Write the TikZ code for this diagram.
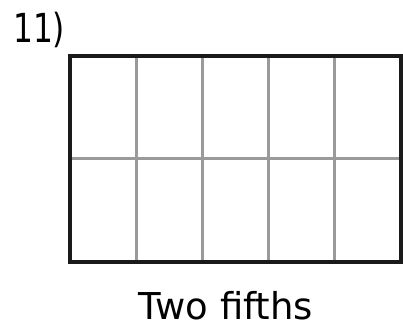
\documentclass[tikz,border=0pt]{standalone}
\usepackage{fontspec}
\setmainfont{DejaVu Sans}
\usepackage{tikz}
\definecolor{framec}{HTML}{1A1A1A}
\definecolor{gridc}{HTML}{9A9A9A}
\tikzset{
  frame/.style={draw=framec, line width=4pt},
  cellline/.style={draw=gridc, line width=3pt},
}

\begin{document}
\begin{tikzpicture}[x=1pt,y=-1pt]
\useasboundingbox (0,0) rectangle (403,328);
\foreach \i in {1,...,4}
  \draw[cellline] ({70+66.2*\i},56.5) -- ({70+66.2*\i},261.5);
\draw[cellline] (70,159) -- (401,159);
\draw[frame] (70,56.5) rectangle (401,261.5);
\node[anchor=base west, inner sep=0pt, font=\fontsize{40}{40}\selectfont] (num) at (13,43) {\scalebox{0.78}[1]{11)}};
\node[anchor=base, inner sep=0pt, font=\fontsize{37}{37}\selectfont] (caption) at (226,319) {Two fifths};
\end{tikzpicture}
\end{document}
